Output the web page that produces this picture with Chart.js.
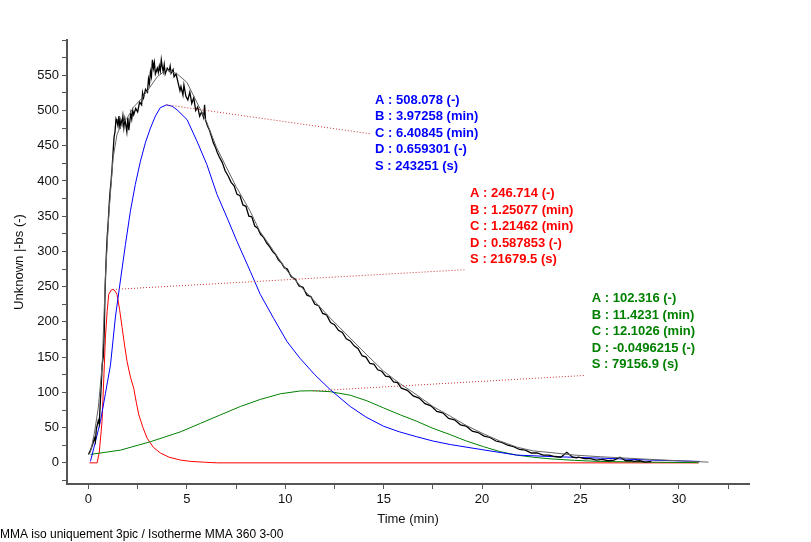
<!DOCTYPE html>
<html>
<head>
<meta charset="utf-8">
<script src="https://cdn.jsdelivr.net/npm/chart.js@4.4.1/dist/chart.umd.min.js"></script>
<style>
  html, body { margin: 0; padding: 0; background: #fff; }
  #wrap { width: 811px; height: 542px; }
</style>
</head>
<body>
<div id="wrap"><canvas id="chart" width="811" height="542"></canvas></div>
<script>
// measured signal (noisy)
const tMeas = [0.0,0.1,0.2,0.3,0.35,0.4,0.5,0.55,0.6,0.65,0.7,0.75,0.8,0.85,0.9,0.95,1.0,1.05,1.1,1.15,1.2,1.25,1.3,1.35,1.4,1.45,1.5,1.55,1.6,1.65,1.7,1.75,1.8,1.85,1.9,1.95,2.0,2.05,2.1,2.15,2.2,2.25,2.3,2.4,2.5,2.6,2.7,2.75,2.8,2.9,3.0,3.05,3.1,3.15,3.2,3.25,3.3,3.35,3.4,3.5,3.55,3.6,3.65,3.7,3.75,3.8,3.85,3.9,4.0,4.1,4.15,4.2,4.3,4.35,4.45,4.55,4.65,4.7,4.8,4.85,4.95,5.05,5.15,5.25,5.35,5.45,5.55,5.65,5.75,5.85,5.9,5.95,6.05,6.15,6.25,6.35,6.45,6.55,6.65,6.8,6.95,7.1,7.25,7.4,7.55,7.7,7.85,8.0,8.15,8.3,8.45,8.6,8.75,8.9,9.05,9.2,9.35,9.5,9.65,9.8,9.95,10.1,10.3,10.5,10.7,10.9,11.1,11.3,11.5,11.7,11.9,12.1,12.3,12.5,12.7,12.9,13.1,13.3,13.5,13.7,13.9,14.1,14.3,14.5,14.7,14.9,15.1,15.3,15.5,15.7,15.9,16.2,16.5,16.8,17.1,17.4,17.7,18.0,18.3,18.6,18.9,19.2,19.5,19.8,20.1,20.4,20.7,21.0,21.3,21.6,21.9,22.2,22.5,22.8,23.1,23.4,23.7,24.0,24.3,24.6,24.8,24.9,25.2,25.5,25.8,26.1,26.4,26.7,27.0,27.3,27.6,27.7,28.0,28.3,28.6,28.9,29.2];
const vMeas = [12,18,25,35,30,48,60,55,85,110,140,150,185,250,290,320,340,365,385,400,418,440,462,470,488,484,478,492,474,486,480,492,476,488,479,470,490,472,484,496,488,500,494,503,498,512,508,525,518,530,526,545,538,555,548,572,560,568,552,560,554,563,556,572,562,555,565,552,560,556,563,553,558,548,552,540,528,534,522,536,520,515,526,510,518,500,505,492,498,490,508,486,478,472,463,454,448,440,434,426,414,407,398,393,381,379,366,364,350,349,336,333,324,320,312,307,300,296,288,284,277,275,264,261,251,249,238,236,225,223,212,210,199,196,188,185,176,173,166,162,152,150,141,140,132,130,123,122,115,114,106,103,95,92,84,81,73,71,63,61,54,52,45,43,38,36,31,29,25,23,19,18,14,14,11,11,9,8,15,8,7,8,6,6,4,5,3,4,8,3,3,2,3,1,2];

// overall fit
const tFit = [0.0,0.1,0.3,0.5,0.7,0.86,1.03,1.25,1.45,1.71,1.96,2.3,2.64,3.0,3.5,3.97,4.5,5.0,5.5,6.0,6.5,7.0,7.5,8.2,8.7,9.4,10.1,10.9,11.8,12.3,13.3,14.15,15.0,15.85,16.7,17.5,18.4,19.2,20.05,20.9,21.8,22.6,23.45,24.7,26.0,28.5,31.5];
const vFit = [12,15,42,78,140,262,350,432,466,482,489,505,515,528,548,558,552,540,512,484,448,420,392,358,329,301,272,247,220,205,177,153,130,112,96,80,66,53,41.5,31,22,17,14.7,11,8.7,5,1];

// peak components
const tBlue = [0.1,0.3,0.61,0.86,1.12,1.37,1.62,1.88,2.13,2.38,2.64,2.9,3.15,3.4,3.65,3.97,4.25,4.5,5.01,5.52,6.02,6.53,7.04,7.55,8.22,8.73,9.41,10.09,10.76,11.5,12.28,13.3,14.1,14.99,15.8,16.68,17.5,18.38,20.05,21.76,23.45,26.0,28.5,31.07];
const vBlue = [2,24,59,98,139,207,258,310,357,395,428,455,475,492,504,508,506,501,487,456,423,381,348,314,272,239,205,172,148,125,104,80,65,52,44,37,31,26,18.5,11,9,6.7,4,2];

const tRed = [0.05,0.44,0.55,0.69,0.78,0.86,0.95,1.03,1.15,1.25,1.35,1.45,1.58,1.71,1.84,1.96,2.13,2.3,2.43,2.56,2.77,2.98,3.3,3.65,4.1,4.67,5.2,5.85,6.5,31.0];
const vRed = [0,0,15,59,120,177,215,239,245,246,244,239,218,192,166,144,122,106,86,68,50,35,22,14,8,4,2,1,0,0];

const tGreen = [0.1,1.62,3.15,4.67,5.69,6.7,7.72,8.73,9.75,10.76,11.42,12.28,13.3,14.15,14.99,15.85,16.68,17.5,18.38,19.2,20.07,20.9,21.76,22.6,23.45,24.7,26.0,28.5,31.0];
const vGreen = [12,18,30,44,56,68,80,90,98,102,102.3,101,96,88,78,68,59,49,40,31,23,16,11,8,5.7,3.5,2,1,0.3];

// leader lines: peak -> parameter box
const leaderBlue = [[3.97, 508], [14.3, 467]];
const leaderRed = [[1.25, 246], [19.1, 274]];
const leaderGreen = [[11.42, 102], [25.2, 124]];

// fit parameters
const paramsBlue = ['A : 508.078 (-)', 'B : 3.97258 (min)', 'C : 6.40845 (min)', 'D : 0.659301 (-)', 'S : 243251 (s)'];
const paramsRed = ['A : 246.714 (-)', 'B : 1.25077 (min)', 'C : 1.21462 (min)', 'D : 0.587853 (-)', 'S : 21679.5 (s)'];
const paramsGreen = ['A : 102.316 (-)', 'B : 11.4231 (min)', 'C : 12.1026 (min)', 'D : -0.0496215 (-)', 'S : 79156.9 (s)'];

const caption = 'MMA iso uniquement 3pic / Isotherme MMA 360 3-00';

const pts = (ts, vs) => ts.map((t, i) => ({ x: t, y: vs[i] }));
const seg = (p) => p.map(([x, y]) => ({ x, y }));

const FONT = "'Liberation Sans', Arial, sans-serif";
Chart.defaults.font.family = FONT;
Chart.defaults.color = '#111';

const lineDs = (data, color, width) => ({
  data, borderColor: color, borderWidth: width, pointRadius: 0, tension: 0, fill: false
});
const leaderDs = (data) => ({
  data: seg(data), borderColor: '#c83232', borderWidth: 1, borderDash: [1, 2], pointRadius: 0, fill: false
});

const textBoxes = [
  { lines: paramsBlue, color: '#0000ff', x: 14.56, y: 514.5 },
  { lines: paramsRed, color: '#ff0000', x: 19.39, y: 382 },
  { lines: paramsGreen, color: '#008000', x: 25.57, y: 233 }
];

const overlay = {
  id: 'overlay',
  afterDraw(chart) {
    const { ctx, scales } = chart;
    ctx.save();
    ctx.font = 'bold 13px ' + FONT;
    ctx.textAlign = 'left';
    ctx.textBaseline = 'middle';
    textBoxes.forEach(b => {
      const x0 = scales.x.getPixelForValue(b.x);
      const y0 = scales.y.getPixelForValue(b.y);
      ctx.fillStyle = b.color;
      b.lines.forEach((s, i) => ctx.fillText(s, x0, y0 + i * 16.5));
    });
    ctx.font = '12px ' + FONT;
    ctx.fillStyle = '#000';
    ctx.fillText(caption, 0, 535);
    ctx.restore();
  }
};

const axisColor = '#555';

new Chart(document.getElementById('chart').getContext('2d'), {
  type: 'line',
  data: {
    datasets: [
      leaderDs(leaderBlue),
      leaderDs(leaderRed),
      leaderDs(leaderGreen),
      lineDs(pts(tFit, vFit), '#666', 1),
      lineDs(pts(tMeas, vMeas), '#000', 1.3),
      lineDs(pts(tBlue, vBlue), '#0000ff', 1),
      lineDs(pts(tGreen, vGreen), '#008000', 1),
      lineDs(pts(tRed, vRed), '#ff0000', 1)
    ]
  },
  options: {
    responsive: false,
    animation: false,
    layout: { padding: { left: 0, right: 62, top: 40, bottom: 0 } },
    plugins: { legend: { display: false }, tooltip: { enabled: false } },
    scales: {
      x: {
        type: 'linear',
        min: -1.09,
        max: 33.56,
        afterFit: (s) => { s.height = 58; },
        border: { display: true, color: axisColor, width: 2 },
        grid: { drawOnChartArea: false, drawTicks: true, tickLength: 5, color: axisColor },
        ticks: {
          stepSize: 2.5,
          includeBounds: false,
          autoSkip: false,
          maxRotation: 0,
          padding: 3,
          font: { size: 13 },
          callback: (v) => (v % 5 === 0 ? String(v) : '')
        },
        title: { display: true, text: 'Time (min)', font: { size: 13 }, padding: { top: 4, bottom: 15 } }
      },
      y: {
        type: 'linear',
        min: -30,
        max: 600,
        afterFit: (s) => { s.width = 67; },
        border: { display: true, color: axisColor, width: 2 },
        grid: { drawOnChartArea: false, drawTicks: true, tickLength: 5, color: axisColor },
        ticks: {
          stepSize: 25,
          includeBounds: false,
          autoSkip: false,
          padding: 3,
          font: { size: 13 },
          callback: (v) => (v % 50 === 0 && v >= 0 && v <= 550 ? String(v) : '')
        },
        title: { display: true, text: 'Unknown |-bs (-)', font: { size: 13 }, padding: { top: 12, bottom: 4 } }
      }
    }
  },
  plugins: [overlay]
});
</script>
</body>
</html>
